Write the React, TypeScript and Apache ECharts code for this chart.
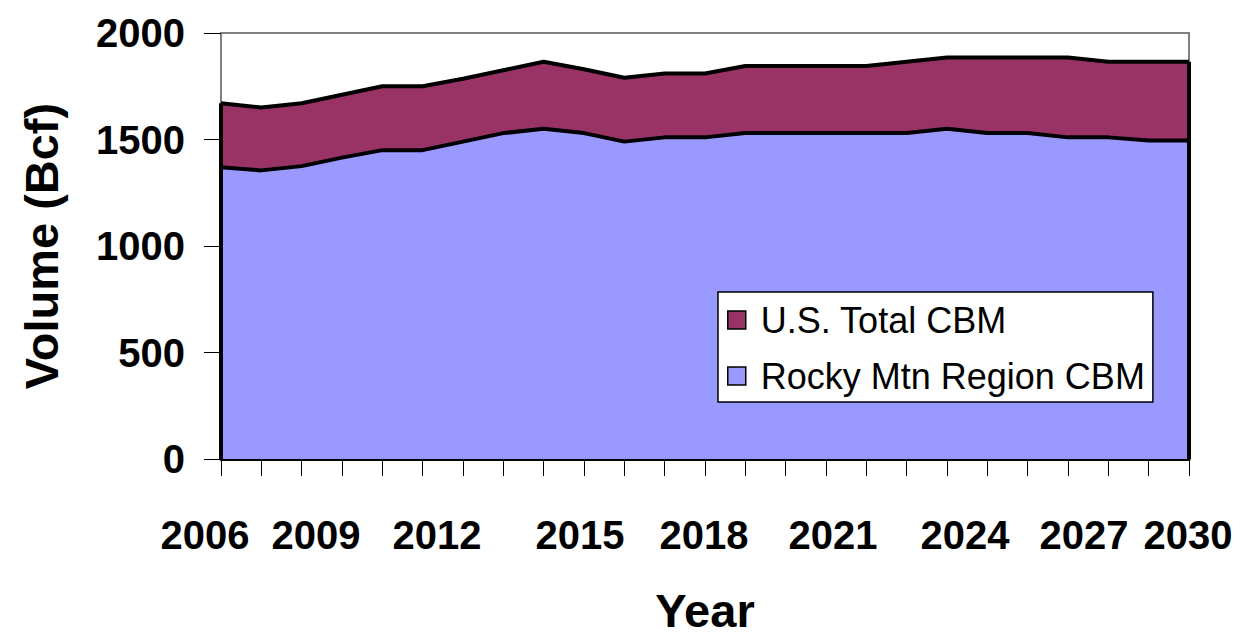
import React, { useEffect, useRef } from "react";
import * as echarts from "echarts";

const years = [
  "2006", "2007", "2008", "2009", "2010", "2011", "2012", "2013", "2014", "2015",
  "2016", "2017", "2018", "2019", "2020", "2021", "2022", "2023", "2024", "2025",
  "2026", "2027", "2028", "2029", "2030",
];

const usTotal = [
  1670, 1650, 1670, 1710, 1750, 1750, 1785, 1825, 1865, 1830,
  1790, 1810, 1810, 1845, 1845, 1845, 1845, 1865, 1885, 1885,
  1885, 1885, 1865, 1865, 1865,
];

const rockyMtn = [
  1370, 1355, 1375, 1415, 1450, 1450, 1490, 1530, 1550, 1530,
  1490, 1510, 1510, 1530, 1530, 1530, 1530, 1530, 1550, 1530,
  1530, 1510, 1510, 1495, 1495,
];

const seriesNames = ["U.S. Total CBM", "Rocky Mtn Region CBM"];

// small horizontal nudges of the year labels (px), as rendered in the original
const labelShift: Record<string, number> = {
  "2006": -16, "2009": -26, "2012": -26, "2015": -4, "2018": -1,
  "2021": 7, "2024": 18, "2027": 16, "2030": -1,
};

const FONT = "'Liberation Sans', Arial, sans-serif";

export default function App() {
  const ref = useRef<HTMLDivElement>(null);

  useEffect(() => {
    if (!ref.current) return;
    const chart = echarts.init(ref.current, null, { renderer: "svg" });
    const last = years.length - 1;

    const labelFont = {
      fontFamily: FONT,
      fontSize: 40,
      fontWeight: "bold",
      color: "#000000",
    };
    const rich: Record<string, any> = {};
    Object.keys(labelShift).forEach((y) => {
      const d = labelShift[y];
      rich["y" + y] = {
        ...labelFont,
        padding: d < 0 ? [0, -2 * d, 0, 0] : [0, 0, 0, 2 * d],
      };
    });

    chart.setOption({
      animation: false,
      backgroundColor: "#ffffff",
      textStyle: { fontFamily: FONT },
      grid: {
        left: 221,
        right: 66,
        top: 33,
        bottom: 178,
        containLabel: false,
        outerBoundsMode: "none",
        show: true,
        borderColor: "#808080",
        borderWidth: 2,
        backgroundColor: "transparent",
      },
      legend: {
        orient: "vertical",
        left: 718,
        top: 292,
        backgroundColor: "#ffffff",
        borderColor: "#000000",
        borderWidth: 1.5,
        padding: [10, 8, 8, 9],
        itemGap: 20,
        itemWidth: 18,
        itemHeight: 18,
        icon: "rect",
        itemStyle: { borderColor: "#000000", borderWidth: 1.5 },
        textStyle: {
          fontFamily: FONT,
          fontSize: 36,
          color: "#000000",
          lineHeight: 36,
          padding: [0, 0, 0, 10],
        },
        data: seriesNames,
      },
      xAxis: {
        type: "category",
        data: years,
        boundaryGap: false,
        name: "Year",
        nameLocation: "middle",
        nameGap: 128,
        nameTextStyle: {
          fontFamily: FONT,
          fontSize: 47,
          fontWeight: "bold",
          color: "#000000",
        },
        axisLine: { show: true, lineStyle: { color: "#000000", width: 3 } },
        axisTick: {
          show: true,
          interval: 0,
          length: 17,
          lineStyle: { color: "#000000", width: 1 },
        },
        axisLabel: {
          interval: 2,
          margin: 56,
          ...labelFont,
          formatter: (v: string) =>
            labelShift[v] !== undefined ? `{y${v}|${v}}` : v,
          rich,
        },
        splitLine: { show: false },
      },
      yAxis: {
        type: "value",
        min: 0,
        max: 2000,
        interval: 500,
        name: "Volume (Bcf)",
        nameLocation: "middle",
        nameRotate: 90,
        nameGap: 156,
        nameTextStyle: {
          fontFamily: FONT,
          fontSize: 47,
          fontWeight: "bold",
          color: "#000000",
        },
        axisLine: { show: true, lineStyle: { color: "#808080", width: 2 } },
        axisTick: {
          show: true,
          length: 17,
          lineStyle: { color: "#000000", width: 1 },
        },
        axisLabel: {
          margin: 36,
          ...labelFont,
          formatter: (v: number) => String(v),
        },
        splitLine: { show: false },
      },
      series: [
        {
          name: seriesNames[0],
          type: "line",
          data: usTotal,
          symbol: "none",
          itemStyle: { color: "#993366" },
          lineStyle: { color: "#000000", width: 4 },
          areaStyle: { color: "#993366", opacity: 1 },
          z: 2,
          markLine: {
            silent: true,
            symbol: ["none", "none"],
            label: { show: false },
            lineStyle: { color: "#000000", width: 4, type: "solid" },
            data: [
              [
                { coord: [years[0], 0] },
                { coord: [years[0], usTotal[0]] },
              ],
              [
                { coord: [years[last], 0] },
                { coord: [years[last], usTotal[last]] },
              ],
            ],
          },
        },
        {
          name: seriesNames[1],
          type: "line",
          data: rockyMtn,
          symbol: "none",
          itemStyle: { color: "#9999FF" },
          lineStyle: { color: "#000000", width: 4 },
          areaStyle: { color: "#9999FF", opacity: 1 },
          z: 3,
        },
      ],
    });
    return () => chart.dispose();
  }, []);

  return (
    <div
      ref={ref}
      style={{ position: "fixed", left: 0, top: 0, width: 1255, height: 637 }}
    />
  );
}
